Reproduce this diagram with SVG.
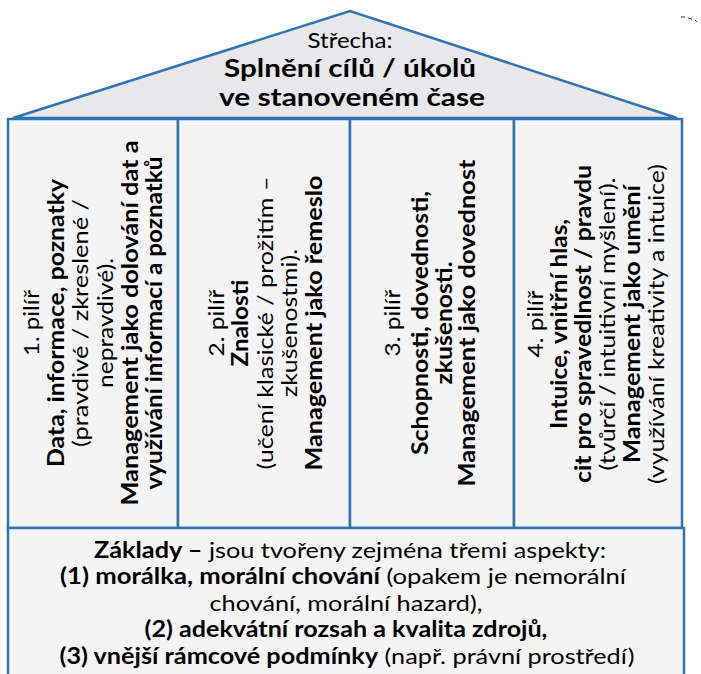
<svg xmlns="http://www.w3.org/2000/svg" width="701" height="674" viewBox="0 0 701 674">
  <style>
    .frame { stroke: #2e74b5; stroke-width: 2.5; }
    .roof { fill: #e8e7ea; }
    .panel { fill: #f4f4f4; }
    text { font-family: Lato, "Open Sans", "Liberation Sans", sans-serif; fill: #000; text-anchor: middle; }
    .b { font-weight: bold; }
    .roof-t { font-size: 21px; }
    .roof-b { font-size: 24px; font-weight: bold; }
    .pillar text { font-size: 22px; }
    .base-t { font-size: 22px; }
  </style>

  <!-- roof -->
  <g id="roof">
    <polygon class="roof frame" points="13,118 350,11 677,118"/>
    <text class="roof-t" x="350" y="48" textLength="85" lengthAdjust="spacingAndGlyphs">Střecha:</text>
    <text class="roof-b" x="350" y="77" textLength="252" lengthAdjust="spacingAndGlyphs">Splnění cílů / úkolů</text>
    <text class="roof-b" x="352" y="106" textLength="266" lengthAdjust="spacingAndGlyphs">ve stanoveném čase</text>
  </g>

  <!-- pillar 1 -->
  <g id="pillar1" class="pillar">
    <rect class="panel frame" x="8" y="119" width="170" height="409"/>
    <g transform="translate(93,323) rotate(-90)">
      <text x="0" y="-54" textLength="66" lengthAdjust="spacingAndGlyphs">1. pilíř</text>
      <text class="b" x="0" y="-29.5" textLength="288" lengthAdjust="spacingAndGlyphs">Data, informace, poznatky</text>
      <text x="0" y="-5" textLength="248" lengthAdjust="spacingAndGlyphs">(pravdivé / zkreslené /</text>
      <text x="0" y="20" textLength="130" lengthAdjust="spacingAndGlyphs">nepravdivé).</text>
      <text class="b" x="0" y="45" textLength="365" lengthAdjust="spacingAndGlyphs">Management jako dolování dat a</text>
      <text class="b" x="0" y="69" textLength="333" lengthAdjust="spacingAndGlyphs">využívání informací a poznatků</text>
    </g>
  </g>

  <!-- pillar 2 -->
  <g id="pillar2" class="pillar">
    <rect class="panel frame" x="178" y="119" width="172" height="409"/>
    <g transform="translate(264,323) rotate(-90)">
      <text x="0" y="-40" textLength="67" lengthAdjust="spacingAndGlyphs">2. pilíř</text>
      <text class="b" x="0" y="-16" textLength="87" lengthAdjust="spacingAndGlyphs">Znalosti</text>
      <text x="0" y="9" textLength="293" lengthAdjust="spacingAndGlyphs">(učení klasické / prožitím –</text>
      <text x="0" y="33" textLength="148" lengthAdjust="spacingAndGlyphs">zkušenostmi).</text>
      <text class="b" x="0" y="58" textLength="295" lengthAdjust="spacingAndGlyphs">Management jako řemeslo</text>
    </g>
  </g>

  <!-- pillar 3 -->
  <g id="pillar3" class="pillar">
    <rect class="panel frame" x="350" y="119" width="164" height="409"/>
    <g transform="translate(432,323) rotate(-90)">
      <text x="0" y="-32" textLength="67" lengthAdjust="spacingAndGlyphs">3. pilíř</text>
      <text class="b" x="0" y="-4" textLength="264" lengthAdjust="spacingAndGlyphs">Schopnosti, dovednosti,</text>
      <text class="b" x="0" y="20" textLength="123" lengthAdjust="spacingAndGlyphs">zkušenosti.</text>
      <text class="b" x="0" y="43" textLength="327" lengthAdjust="spacingAndGlyphs">Management jako dovednost</text>
    </g>
  </g>

  <!-- pillar 4 -->
  <g id="pillar4" class="pillar">
    <rect class="panel frame" x="514" y="119" width="168" height="409"/>
    <g transform="translate(596,324) rotate(-90)">
      <text x="0" y="-53" textLength="67" lengthAdjust="spacingAndGlyphs">4. pilíř</text>
      <text class="b" x="0" y="-29" textLength="210" lengthAdjust="spacingAndGlyphs">Intuice, vnitřní hlas,</text>
      <text class="b" x="0" y="-5" textLength="318" lengthAdjust="spacingAndGlyphs">cit pro spravedlnost / pravdu</text>
      <text x="0" y="19" textLength="293" lengthAdjust="spacingAndGlyphs">(tvůrčí / intuitivní myšlení).</text>
      <text class="b" x="0" y="44" textLength="278" lengthAdjust="spacingAndGlyphs">Management jako umění</text>
      <text x="0" y="68" textLength="320" lengthAdjust="spacingAndGlyphs">(využívání kreativity a intuice)</text>
    </g>
  </g>

  <!-- foundations -->
  <g id="base">
    <rect class="panel frame" x="8" y="528" width="676" height="160"/>
    <text class="base-t" x="350" y="558" textLength="512" lengthAdjust="spacingAndGlyphs"><tspan class="b">Základy –</tspan> jsou tvořeny zejména třemi aspekty:</text>
    <text class="base-t" x="343" y="584" textLength="566" lengthAdjust="spacingAndGlyphs"><tspan class="b">(1) morálka, morální chování</tspan> (opakem je nemorální</text>
    <text class="base-t" x="346" y="611" textLength="273" lengthAdjust="spacingAndGlyphs">chování, morální hazard),</text>
    <text class="base-t b" x="346" y="637" textLength="403" lengthAdjust="spacingAndGlyphs">(2) adekvátní rozsah a kvalita zdrojů,</text>
    <text class="base-t" x="347" y="664" textLength="575" lengthAdjust="spacingAndGlyphs"><tspan class="b">(3) vnější rámcové podmínky</tspan> (např. právní prostředí)</text>
  </g>

  <!-- stray dashed stroke, top right -->
  <g id="connectors">
    <path d="M681,17 L685,17 M688,18 L692,19 M695,20 L697,22" fill="none" stroke="#333" stroke-width="1"/>
  </g>
</svg>
